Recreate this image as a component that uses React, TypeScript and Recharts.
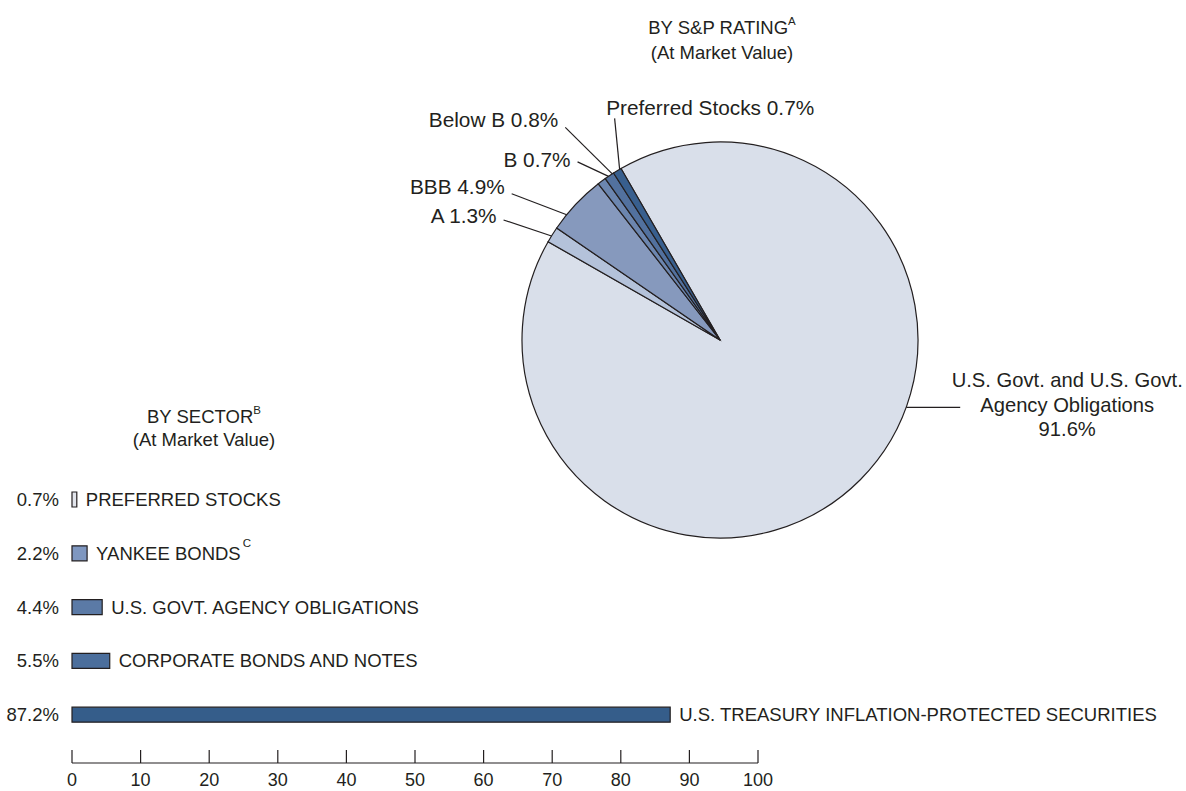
import React from 'react';
import { PieChart, Pie, Cell, BarChart, Bar, XAxis, YAxis, LabelList } from 'recharts';

// S&P rating breakdown (pie)
const ratingNames = ['U.S. Govt. and U.S. Govt. Agency Obligations', 'A', 'BBB', 'B', 'Below B', 'Preferred Stocks'];
const ratingValues = [91.6, 1.3, 4.9, 0.7, 0.8, 0.7];
const ratingColors = ['#d9dfea', '#b4c2da', '#8699bd', '#6c86af', '#52719e', '#385f8e'];

// sector breakdown (bars)
const sectorNames = [
  'PREFERRED STOCKS',
  'YANKEE BONDS',
  'U.S. GOVT. AGENCY OBLIGATIONS',
  'CORPORATE BONDS AND NOTES',
  'U.S. TREASURY INFLATION-PROTECTED SECURITIES',
];
const sectorValues = [0.7, 2.2, 4.4, 5.5, 87.2];
const sectorNotes = ['', 'C', '', '', ''];
const sectorColors = ['#e1e4eb', '#7f97c0', '#5b7aa6', '#4b6e9c', '#355d8a'];

const xTicks = [0, 10, 20, 30, 40, 50, 60, 70, 80, 90, 100];

const ratingData = ratingNames.map((name, i) => ({ name, value: ratingValues[i] }));
const sectorData = sectorNames.map((name, i) => ({ name, value: sectorValues[i], note: sectorNotes[i] }));

const INK = '#231f20';
const FONT = '"Liberation Sans", Arial, Helvetica, sans-serif';
const RAD = Math.PI / 180;
const PIE_FS = 20.8;
const BAR_FS = 18.5;

// leader line tweaks per slice: angle shift on the rim, then offset of the outer end
const pieLabelLayout = [
  { dAngle: 25, dx: 54, dy: 0, lines: ['U.S. Govt. and U.S. Govt.', 'Agency Obligations'] },
  { dAngle: 0.4, dx: -48, dy: -16, ty: 3 },
  { dAngle: 4, dx: -55, dy: -21, ty: 0 },
  { dAngle: -2.4, dx: -31, dy: -14.5, ty: 5 },
  { dAngle: -1, dx: -47, dy: -46.5, ty: 0 },
  { dAngle: -0.8, dx: -5, dy: -51, top: true },
];

const renderPieLabel = (props: any) => {
  const { cx, cy, midAngle, outerRadius, index, value, name } = props;
  const lay: any = pieLabelLayout[index];
  const a = (midAngle + lay.dAngle) * RAD;
  const x1 = cx + outerRadius * Math.cos(a);
  const y1 = cy - outerRadius * Math.sin(a);
  const x2 = x1 + lay.dx;
  const y2 = y1 + lay.dy;
  let text;
  if (lay.lines) {
    const rows = [...lay.lines, `${value}%`];
    text = (
      <text x={x2 + 107} y={y2 - 20} textAnchor="middle" fontSize={20.2} fill={INK} fontFamily={FONT}>
        {rows.map((r, i) => (
          <tspan key={i} x={x2 + 107} dy={i === 0 ? 0 : 24.5}>
            {r}
          </tspan>
        ))}
      </text>
    );
  } else if (lay.top) {
    text = (
      <text x={x2 - 8.5} y={y2 - 3.5} textAnchor="start" fontSize={PIE_FS} fill={INK} fontFamily={FONT}>
        {`${name} ${value}%`}
      </text>
    );
  } else {
    text = (
      <text x={x2 - 7} y={y2 + lay.ty} textAnchor="end" fontSize={PIE_FS} fill={INK} fontFamily={FONT}>
        {`${name} ${value}%`}
      </text>
    );
  }
  return (
    <g key={`lbl-${index}`}>
      <line x1={x1} y1={y1} x2={x2} y2={y2} stroke={INK} strokeWidth={1.2} />
      {text}
    </g>
  );
};

const renderSectorName = (props: any) => {
  const { x, y, width, height, value } = props;
  const row = sectorData.find((d) => d.name === value);
  return (
    <text x={x + width + 9} y={y + height / 2 + 6.5} fontSize={BAR_FS} fill={INK} fontFamily={FONT}>
      {value}
      {row && row.note ? (
        <tspan fontSize={11.5} dx={2} dy={-13}>
          {row.note}
        </tspan>
      ) : null}
    </text>
  );
};

const AxisTick = (props: any) => {
  const { x, y, payload } = props;
  return (
    <g>
      <line x1={x} y1={y - 13} x2={x} y2={y} stroke={INK} strokeWidth={1.2} />
      <text x={x} y={y + 23} textAnchor="middle" fontSize={18} fill={INK} fontFamily={FONT}>
        {payload.value}
      </text>
    </g>
  );
};

const titleStyle: React.CSSProperties = {
  position: 'absolute',
  width: 300,
  textAlign: 'center',
  fontSize: 18.5,
  color: INK,
  fontFamily: FONT,
};
const supStyle: React.CSSProperties = { fontSize: 11.5, position: 'relative', top: -9, lineHeight: 0 };

export default function App() {
  return (
    <div style={{ position: 'absolute', left: 0, top: 0, width: 1186, height: 791, background: '#fff', overflow: 'hidden' }}>
      <div style={{ position: 'absolute', left: 0, top: 0 }}>
        <BarChart
          width={1186}
          height={791}
          data={sectorData}
          layout="vertical"
          margin={{ top: 473, right: 428, bottom: 0, left: 72 }}
        >
          <XAxis
            type="number"
            domain={[0, 100]}
            ticks={xTicks}
            height={28}
            tickSize={0}
            tickMargin={0}
            tickLine={false}
            axisLine={{ stroke: INK, strokeWidth: 1.2 }}
            tick={<AxisTick />}
            interval={0}
          />
          <YAxis type="category" dataKey="name" hide padding={{ top: 0, bottom: 21 }} />
          <Bar dataKey="value" barSize={15} stroke={INK} strokeWidth={1.2} isAnimationActive={false}>
            {sectorData.map((d, i) => (
              <Cell key={d.name} fill={sectorColors[i]} />
            ))}
            <LabelList
              dataKey="value"
              position="left"
              offset={13}
              formatter={(v: any) => `${v}%`}
              fontSize={BAR_FS}
              fill={INK}
              fontFamily={FONT}
            />
            <LabelList dataKey="name" content={renderSectorName} />
          </Bar>
        </BarChart>
      </div>
      <div style={{ position: 'absolute', left: 0, top: 0 }}>
        <PieChart width={1186} height={791} margin={{ top: 0, right: 0, bottom: 0, left: 0 }}>
          <Pie
            data={ratingData}
            dataKey="value"
            nameKey="name"
            cx={720}
            cy={340}
            outerRadius={198}
            startAngle={120}
            endAngle={-240}
            stroke={INK}
            strokeWidth={1.2}
            label={renderPieLabel}
            labelLine={false}
            isAnimationActive={false}
          >
            {ratingData.map((d, i) => (
              <Cell key={d.name} fill={ratingColors[i]} />
            ))}
          </Pie>
        </PieChart>
      </div>
      <div style={{ ...titleStyle, left: 572, top: 15, lineHeight: '25px' }}>
        BY S&amp;P RATING<span style={supStyle}>A</span>
        <br />
        (At Market Value)
      </div>
      <div style={{ ...titleStyle, left: 54, top: 405, lineHeight: '23px' }}>
        BY SECTOR<span style={supStyle}>B</span>
        <br />
        (At Market Value)
      </div>
    </div>
  );
}
